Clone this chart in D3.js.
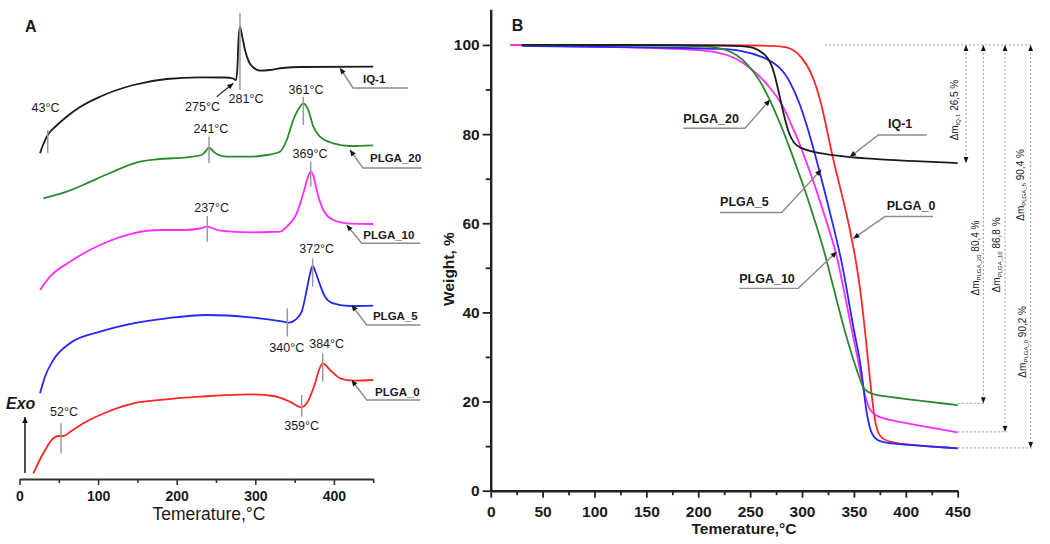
<!DOCTYPE html>
<html><head><meta charset="utf-8">
<script src="https://cdn.jsdelivr.net/npm/d3@7"></script>
<style>body{margin:0;background:#fff} svg text{font-family:"Liberation Sans",Arial,Helvetica,sans-serif;fill:#1a1a1a}</style>
</head><body><svg id="c" width="1050" height="544"></svg>
<script>
// ---------- Panel A: DSC curves (temperature °C, signal in arbitrary units, curves offset) ----------
const dscT_IQ1 = [26.1,29.9,35.9,45.2,60,77,102.4,144.8,187.3,229.6,261.5,271.6,275.4,277.4,278.6,280.5,283,286.9,292,297,306,318.7,335.2,356.9,450];
const dscV_IQ1 = [325.7,334,344,352,362.3,372,382.3,394,400,401.7,401.5,400.5,399,414,439,452,444,429,417,412,408.3,409,411,412,412.3];
const dscT_P20 = [30.3,60,80.8,115.1,153.3,178.8,212.7,231.8,236,241.1,246.2,250.9,263.6,293.3,314.5,331.4,340,348.3,356.9,361.1,367.4,373.8,382.3,399.2,420.5,450];
const dscV_P20 = [280.7,287.3,294,306,317.3,320,321.7,324,327,331.3,328,325,322.3,322.3,324,327.3,339,359,372.3,375.7,369,352.3,342.3,335.7,333,333.7];
const dscT_P10 = [26.1,38.8,64.2,102.4,144.8,178.8,208.4,229.6,238.2,255.2,293.3,318.7,331.4,340,352.7,361.1,365.8,370.5,374.7,378.1,386.5,399.2,416.3,450];
const dscV_P10 = [189,202.3,217.3,234,245.7,249,249,250.5,252.3,248.3,246.7,247,247.3,252.3,265.7,285.7,299,307.3,301,289,269,259,255.7,255];
const dscT_P5 = [26.1,32.4,43,64.2,102.4,144.8,187.3,238.2,293.3,335.6,343.3,350.6,359,365.4,369.6,373,376.6,380.2,388.7,399.2,420.5,450];
const dscV_P5 = [85.7,102.3,119,135.7,147.3,155.7,160.7,164,161.7,157.3,156.3,159,167.3,189,205,213,207,199,182.3,175.7,173,173.3];
const dscT_P0 = [17.6,30.3,43,50.6,55.7,64.2,81.2,102.4,144.8,187.3,229.6,293.3,322.9,344.1,359,365.4,376,381,385.8,395.1,408,424.7,450];
const dscV_P0 = [5.7,25.7,40.7,43,43,47,55.7,64,75.7,79.7,82.3,84.7,83,77.3,71.7,75.7,95.7,109,115.7,109,100.7,98.3,99];

// ---------- Panel B: TGA curves (temperature °C, weight %) ----------
const tgaT_IQ1 = [30,200,240,253,266,272,277,282,287,292,298,310,330,360,400,450];
const tgaW_IQ1 = [100,100,99.8,99.6,97.8,95,90,84.7,80.2,77.9,76.9,76,75.2,74.5,74,73.5];
const tgaT_P20 = [30,100,200,214,227,237,247,259.5,269,279,289,298,305,313,322,335,347,353,358.5,363,369,375,395,450];
const tgaW_P20 = [100,100,99.8,99.6,99,97.8,95.9,92.1,87.7,82.4,76.4,70.5,66,60,53.5,41,31,27,23,22.2,21.6,21.3,20.7,19.2];
const tgaT_P10 = [19,100,156,200,221,234,253,269,282,291.6,296.4,305,314,323,333,339,346,354,359,364,372,385,401,450];
const tgaW_P10 = [100,99.6,99.4,98.9,98.3,97.4,94.5,90.6,86.5,81,78.7,73.2,67.4,60.8,53.5,46.5,38.3,29.3,23,18.1,16.6,15.8,15.1,13.1];
const tgaT_P5 = [30,100,200,221,240,263,279,288,298,306,314,322,330,338,344,349,356,359,362,367,375,385,400,450];
const tgaW_P5 = [99.8,99.6,99.3,99.1,98.9,97.4,95.1,92.1,86.9,80.9,74.2,67,59.5,51.8,44,37,29.3,23.5,17.4,12.1,11,10.6,10.3,9.5];
const tgaT_P0 = [19,100,200,260,280,290,300,310,318,324,330,336.6,343,348,352,355.9,359,362,365,368,371,375,385,400,450];
const tgaW_P0 = [100,100,100,99.9,99.7,99.3,97.3,93.5,87.5,81,74.2,68.2,62,56.5,51.5,45.5,39.5,33,26,19.5,14.5,11.8,10.9,10.3,9.5];

// ---------- Labels / ticks ----------
const sampleNames = ["IQ-1","PLGA_20","PLGA_10","PLGA_5","PLGA_0"];
const massLoss = [26.5, 80.4, 86.8, 90.4, 90.2];
const ticksA = [0,100,200,300,400];
const minorA = [50,150,250,350,450];
const ticksBx = [0,50,100,150,200,250,300,350,400,450];
const minorBx = [25,75,125,175,225,275,325,375,425];
const ticksBy = [0,20,40,60,80,100];
const minorBy = [10,30,50,70,90];
const peakLabels = ["43°C","275°C","281°C","241°C","361°C","237°C","369°C","372°C","340°C","384°C","359°C","52°C"];

const colors = {"IQ-1":"#1c1c1c","PLGA_20":"#2c8a2c","PLGA_10":"#ff2cff","PLGA_5":"#2626ff","PLGA_0":"#ff2626"};

const svg = d3.select("#c");
const defs = svg.append("defs");
defs.append("marker").attr("id","ah").attr("viewBox","0 0 10 10").attr("refX",10).attr("refY",5)
  .attr("markerWidth",7).attr("markerHeight",6).attr("markerUnits","userSpaceOnUse").attr("orient","auto-start-reverse")
  .append("path").attr("d","M0,0.5L10,5L0,9.5Z").attr("fill","#111");
defs.append("marker").attr("id","ahs").attr("viewBox","0 0 10 10").attr("refX",10).attr("refY",5)
  .attr("markerWidth",6).attr("markerHeight",6).attr("markerUnits","userSpaceOnUse").attr("orient","auto-start-reverse")
  .append("path").attr("d","M0,1L10,5L0,9Z").attr("fill","#111");

// ================= PANEL A =================
const xA = d3.scaleLinear().domain([0,450]).range([19.5,373.2]);
const yA = d3.scaleLinear().domain([0,460]).range([479,19]);
const lineA = d3.line().x(d=>xA(d[0])).y(d=>yA(d[1])).curve(d3.curveMonotoneX);
const dscSeries = [
  ["IQ-1", dscT_IQ1, dscV_IQ1], ["PLGA_20", dscT_P20, dscV_P20], ["PLGA_10", dscT_P10, dscV_P10],
  ["PLGA_5", dscT_P5, dscV_P5], ["PLGA_0", dscT_P0, dscV_P0]];
const gA = svg.append("g");
dscSeries.forEach(([n,T,V])=>{
  gA.append("path").datum(T.map((t,i)=>[t,V[i]])).attr("d",lineA)
    .attr("fill","none").attr("stroke",colors[n]).attr("stroke-width",1.8);
});

// peak markers (gray vertical ticks) and temperature labels
const peakMarks = [
  {t:35.9,v1:326,v2:349,lt:33.1,lv:367},
  null,
  {t:280.5,v1:389,v2:466,lt:288.2,lv:376},
  {t:241.1,v1:316,v2:342.3,lt:243.6,lv:346},
  {t:361.1,v1:354,v2:382.3,lt:364.5,lv:385},
  {t:238.9,v1:237.3,v2:263,lt:244.5,lv:267.3},
  {t:370.5,v1:292.3,v2:317.3,lt:369.6,lv:321},
  {t:373,v1:192.3,v2:220.7,lt:378.1,lv:225.7},
  {t:340.7,v1:142.3,v2:170.7,lt:340,lv:127.3},
  {t:385.8,v1:97.3,v2:125.7,lt:390.8,lv:130.7},
  {t:359,v1:62.3,v2:84,lt:359,lv:49},
  {t:52.8,v1:25.7,v2:55.7,lt:56.6,lv:63}];
peakMarks.forEach((m,i)=>{
  if(!m) return;
  gA.append("line").attr("x1",xA(m.t)).attr("x2",xA(m.t)).attr("y1",yA(m.v1)).attr("y2",yA(m.v2))
    .attr("stroke","#9a9a9a").attr("stroke-width",1.5);
  gA.append("text").attr("x",xA(m.lt)).attr("y",yA(m.lv)).attr("text-anchor","middle")
    .attr("font-size",12.5).text(peakLabels[i]);
});
// 275°C arrow label
gA.append("line").attr("x1",xA(250.9)).attr("y1",yA(382.3)).attr("x2",xA(272)).attr("y2",yA(395.7))
  .attr("stroke","#333").attr("stroke-width",1.2).attr("marker-end","url(#ah)");
gA.append("text").attr("x",xA(232.8)).attr("y",yA(368)).attr("text-anchor","middle").attr("font-size",12.5).text(peakLabels[1]);

// curve name labels with leaders
const leadersA = [
  {tip:[407.8,411],elbow:[424.3,391],end:[494.3,391],tx:[437,396]},
  {tip:[420.5,329],elbow:[437,311],end:[512,311],tx:[445.9,317]},
  {tip:[416.3,254],elbow:[435.4,235.7],end:[510,235.7],tx:[437.4,239.7]},
  {tip:[422.6,174],elbow:[441.7,154],end:[510,154],tx:[449.7,159]},
  {tip:[422.6,99],elbow:[441.7,79],end:[510,79],tx:[452.3,83.3]}];
leadersA.forEach((L,i)=>{
  gA.append("path").attr("d",d3.line()([[xA(L.end[0]),yA(L.end[1])],[xA(L.elbow[0]),yA(L.elbow[1])],[xA(L.tip[0]),yA(L.tip[1])]]))
    .attr("fill","none").attr("stroke","#8c8c8c").attr("stroke-width",1.4).attr("marker-end","url(#ah)");
  gA.append("text").attr("x",xA(L.tx[0])).attr("y",yA(L.tx[1])).attr("font-size",11.5).attr("font-weight","bold").text(sampleNames[i]);
});

// x axis A
const axA = gA.append("g").attr("transform",`translate(0,${yA(0)})`)
  .call(d3.axisBottom(xA).tickValues(ticksA).tickSize(6).tickSizeOuter(0).tickPadding(6.5));
const axA2 = gA.append("g").attr("transform",`translate(0,${yA(0)})`)
  .call(d3.axisBottom(xA).tickValues(minorA).tickSize(4).tickSizeOuter(0).tickFormat(""));
axA2.select(".domain").remove();
[axA,axA2].forEach(a=>{a.selectAll("line").attr("stroke","#333").attr("stroke-width",1.6);});
axA.select(".domain").attr("stroke","#333").attr("stroke-width",2);
axA.selectAll("text").attr("font-size",14).attr("font-weight","bold").style("font-family",'"Liberation Sans",Arial,sans-serif').attr("fill","#1a1a1a");
gA.append("text").attr("x",209).attr("y",520).attr("text-anchor","middle").attr("font-size",17.5).text("Temerature,°C");
gA.append("text").attr("x",25).attr("y",31.7).attr("font-size",16).attr("font-weight","bold").text("A");
// Exo arrow
gA.append("line").attr("x1",xA(7)).attr("x2",xA(7)).attr("y1",yA(6)).attr("y2",yA(62))
  .attr("stroke","#222").attr("stroke-width",1.6).attr("marker-end","url(#ah)");
gA.append("text").attr("x",6).attr("y",409).attr("font-size",16).attr("font-weight","bold").attr("font-style","italic").text("Exo");

// ================= PANEL B =================
const xB = d3.scaleLinear().domain([0,450]).range([490.7,957.7]);
const yB = d3.scaleLinear().domain([0,108]).range([490.7,9.3]);
const lineB = d3.line().x(d=>xB(d[0])).y(d=>yB(d[1])).curve(d3.curveBasis);
const gB = svg.append("g");
const tgaSeries = [
  ["PLGA_0", tgaT_P0, tgaW_P0], ["PLGA_10", tgaT_P10, tgaW_P10], ["PLGA_5", tgaT_P5, tgaW_P5],
  ["PLGA_20", tgaT_P20, tgaW_P20], ["IQ-1", tgaT_IQ1, tgaW_IQ1]];
tgaSeries.forEach(([n,T,W])=>{
  gB.append("path").datum(T.map((t,i)=>[t,W[i]])).attr("d",lineB)
    .attr("fill","none").attr("stroke",colors[n]).attr("stroke-width",1.8);
});

// mass-loss annotations
const residual = massLoss.map(m=>+(100-m).toFixed(1));
const fmt = v=>d3.format(".1f")(v).replace(".",",");
const arrowsB = [
  {t:458, bottom:residual[0]},
  {t:474.7, bottom:residual[1]},
  {t:495.6, bottom:residual[2]},
  {t:520.3, bottom:residual[3]}];
const dotStyle = s=>s.attr("stroke","#9a9a9a").attr("stroke-width",1).attr("stroke-dasharray","2,2").attr("fill","none");
dotStyle(gB.append("line").attr("x1",xB(322)).attr("x2",xB(522)).attr("y1",yB(100)).attr("y2",yB(100)));
arrowsB.forEach((a,i)=>{
  dotStyle(gB.append("line").attr("x1",xB(a.t)).attr("x2",xB(a.t)).attr("y1",yB(100)).attr("y2",yB(a.bottom)))
    .attr("marker-start","url(#ahs)").attr("marker-end","url(#ahs)");
  if(i>0) dotStyle(gB.append("line").attr("x1",xB(450)).attr("x2",xB(a.t)+2).attr("y1",yB(a.bottom)).attr("y2",yB(a.bottom)));
});
const lossText = [
  {t:446.6,w:85.4},{t:466.8,w:52.2},{t:487.0,w:52.9},{t:510.1,w:68.6},{t:512.0,w:33.4}];
lossText.forEach((p,i)=>{
  const tx = gB.append("text").attr("transform",`translate(${xB(p.t)+3.5},${yB(p.w)}) rotate(-90)`)
    .attr("text-anchor","middle").attr("font-size",10);
  tx.append("tspan").text("Δm");
  tx.append("tspan").attr("font-size",6).attr("dy",2).text(sampleNames[i]);
  tx.append("tspan").attr("dy",-2).text(" " + fmt(massLoss[i]) + " %");
});

// curve labels B
const leadersB = [
  {tip:[346.2,74.9],elbow:[373.5,79.8],end:[420.1,79.8],tx:[382.8,81.4]},
  {tip:[269.1,87.7],elbow:[245,81.3],end:[185.6,81.3],tx:[185.6,82.6]},
  {tip:[333.4,53.6],elbow:[296.4,45.4],end:[239.5,45.4],tx:[239.5,46.7]},
  {tip:[318.5,72],elbow:[280.4,62.4],end:[221,62.4],tx:[221,63.9]},
  {tip:[349.5,56.6],elbow:[379.9,61.5],end:[426.2,61.5],tx:[381.6,63]}];
leadersB.forEach((L,i)=>{
  gB.append("path").attr("d",d3.line()([[xB(L.end[0]),yB(L.end[1])],[xB(L.elbow[0]),yB(L.elbow[1])],[xB(L.tip[0]),yB(L.tip[1])]]))
    .attr("fill","none").attr("stroke","#8c8c8c").attr("stroke-width",1.4).attr("marker-end","url(#ah)");
  gB.append("text").attr("x",xB(L.tx[0])).attr("y",yB(L.tx[1])).attr("font-size",12.5).attr("font-weight","bold").text(sampleNames[i]);
});

// axes B
const axBx = gB.append("g").attr("transform",`translate(0,${yB(0)})`)
  .call(d3.axisBottom(xB).tickValues(ticksBx).tickSize(7).tickSizeOuter(0).tickPadding(8));
const axBx2 = gB.append("g").attr("transform",`translate(0,${yB(0)})`)
  .call(d3.axisBottom(xB).tickValues(minorBx).tickSize(4.5).tickFormat(""));
const axBy = gB.append("g").attr("transform",`translate(${xB(0)},0)`)
  .call(d3.axisLeft(yB).tickValues(ticksBy).tickSize(8).tickSizeOuter(0).tickPadding(3));
const axBy2 = gB.append("g").attr("transform",`translate(${xB(0)},0)`)
  .call(d3.axisLeft(yB).tickValues(minorBy).tickSize(5).tickFormat(""));
[axBx2,axBy2].forEach(a=>a.select(".domain").remove());
[axBx,axBx2,axBy,axBy2].forEach(a=>{
  a.selectAll("line").attr("stroke","#222").attr("stroke-width",1.8);
  a.select(".domain").attr("stroke","#222").attr("stroke-width",2.4);
  a.selectAll("text").attr("font-size",15.5).attr("font-weight","bold").style("font-family",'"Liberation Sans",Arial,sans-serif').attr("fill","#1a1a1a");
});
gB.append("text").attr("x",744).attr("y",534).attr("text-anchor","middle").attr("font-size",15.5).attr("font-weight","bold").text("Temerature,°C");
gB.append("text").attr("transform","translate(454,269) rotate(-90)").attr("text-anchor","middle").attr("font-size",15.5).attr("font-weight","bold").text("Weight, %");
gB.append("text").attr("x",511.7).attr("y",30.7).attr("font-size",16).attr("font-weight","bold").text("B");
</script>
</body></html>
